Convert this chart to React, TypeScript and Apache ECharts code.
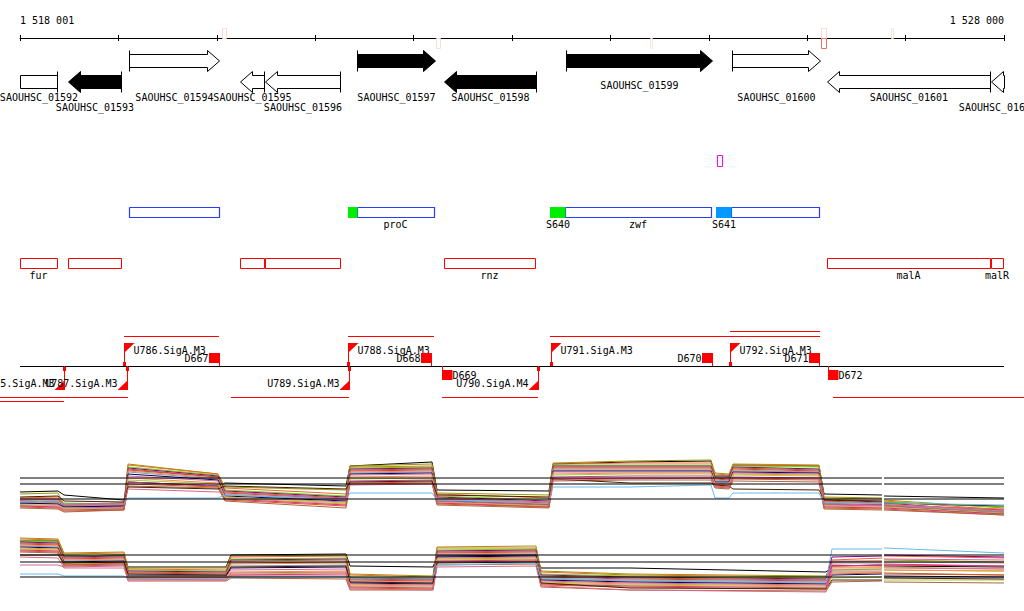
import React, { useEffect, useRef } from "react";
import * as echarts from "echarts";

// ---------------- view / ruler ----------------
const VIEW_START = 1518000;
const VIEW_END = 1528000;
const TICK_STEP = 1000;
const RULER_LABELS = ["1 518 001", "1 528 000"];

// ---------------- signal peaks on the ruler ----------------
const peakStarts = [1520053, 1522228, 1524403, 1526141, 1526141, 1526852];
const peakEnds = [1520094, 1522268, 1524423, 1526191, 1526191, 1526872];
const peakStrands = [1, -1, -1, 1, -1, 1];
const peakLevels = [0.2, 0.18, 0.14, 0.2, 0.75, 0.16];

// ---------------- genes ----------------
const geneNames = [
  "SAOUHSC_01592", "SAOUHSC_01593", "SAOUHSC_01594", "SAOUHSC_01595",
  "SAOUHSC_01596", "SAOUHSC_01597", "SAOUHSC_01598", "SAOUHSC_01599",
  "SAOUHSC_01600", "SAOUHSC_01601", "SAOUHSC_01602",
];
const geneStarts = [1517500, 1518488, 1519108, 1520236, 1520485, 1521425, 1522309, 1523549, 1525236, 1526201, 1527868];
const geneEnds = [1518376, 1519026, 1520022, 1520480, 1521252, 1522218, 1523244, 1525033, 1526130, 1527858, 1528600];
const geneStrands = [-1, -1, 1, -1, -1, 1, -1, 1, 1, -1, -1];
const geneHighlighted = [false, true, false, false, false, true, true, true, false, false, false];

// ---------------- small signal box ----------------
const sigStarts = [1525084];
const sigEnds = [1525134];

// ---------------- CDS boxes with start sites ----------------
const cdsStarts = [1519108, 1521425, 1523539, 1525226];
const cdsEnds = [1520022, 1522207, 1525023, 1526120];
const cdsNames = ["", "proC", "zwf", ""];
const siteStarts = [1521333, 1523386, 1525073];
const siteEnds = [1521425, 1523539, 1525226];
const siteNames = ["", "S640", "S641"];
const siteClass = ["major", "major", "minor"];

// ---------------- regulon boxes ----------------
const regStarts = [1517800, 1518488, 1520236, 1520490, 1522309, 1526201, 1527868];
const regEnds = [1518376, 1519026, 1520480, 1521252, 1523234, 1527858, 1527990];
const regNames = ["fur", "", "", "", "rnz", "malA", "malR"];

// ---------------- promoters / terminators / units ----------------
const promoterNames = ["U785.SigA.M3", "U786.SigA.M3", "U787.SigA.M3", "U788.SigA.M3", "U789.SigA.M3", "U790.SigA.M4", "U791.SigA.M3", "U792.SigA.M3"];
const promoterPos = [1518447, 1519057, 1519088, 1521333, 1521343, 1523264, 1523396, 1525216];
const promoterStrands = [-1, 1, -1, 1, -1, -1, 1, 1];
const termNames = ["D667", "D668", "D669", "D670", "D671", "D672"];
const termPos = [1520022, 1522177, 1522289, 1525033, 1526120, 1526212];
const termStrands = [1, 1, -1, 1, 1, -1];
const unitStarts = [1519057, 1521333, 1523386, 1525216, 1517700, 1517700, 1520144, 1522289, 1526262];
const unitEnds = [1520022, 1522207, 1526130, 1526130, 1519098, 1518447, 1521343, 1523264, 1528400];
const unitStrands = [1, 1, 1, 1, -1, -1, -1, -1, -1];
const unitTier = [0, 0, 0, 1, 0, 1, 0, 0, 0];

// ---------------- expression profiles ----------------
const exprGap = [1526760, 1526781];
const exprTopXs = [1518000, 1518386, 1518447, 1519057, 1519098, 1520012, 1520083, 1521313, 1521354, 1522187, 1522238, 1523376, 1523417, 1524199, 1525022, 1525063, 1525205, 1525246, 1526120, 1526171, 1526760, 1526781, 1528000];
const exprTopThresholds = [42, 36, 21];
const exprTop = [
  [28, 29, 25, 20, 38, 34, 37, 34, 54, 58, 30, 29, 56, 58, 59, 44, 44, 55, 54, 26, 25, 24, 22],
  [26, 27, 15, 17, 56, 46, 33, 30, 54, 56, 27, 25, 57, 59, 60, 47, 46, 56, 55, 23, 22, 20, 12],
  [22, 23, 14, 15, 55, 46, 32, 26, 53, 54, 26, 22, 56, 57, 57, 46, 45, 55, 54, 22, 21, 19, 10],
  [20, 20, 17, 16, 53, 45, 30, 24, 52, 53, 24, 20, 55, 55, 55, 44, 43, 54, 53, 21, 19, 18, 13],
  [19, 18, 14, 14, 52, 44, 29, 23, 51, 52, 23, 19, 54, 54, 54, 43, 43, 53, 51, 20, 18, 17, 8],
  [17, 18, 12, 13, 51, 43, 28, 22, 50, 51, 22, 18, 53, 53, 53, 42, 41, 52, 50, 19, 17, 16, 9],
  [21, 21, 16, 17, 50, 43, 27, 21, 49, 50, 21, 17, 52, 52, 52, 41, 40, 51, 49, 18, 17, 15, 10],
  [18, 17, 13, 12, 49, 42, 26, 20, 48, 49, 21, 16, 51, 51, 51, 40, 39, 50, 48, 18, 16, 16, 8],
  [16, 17, 14, 15, 48, 41, 25, 20, 47, 48, 20, 16, 50, 50, 50, 39, 39, 49, 48, 17, 15, 15, 9],
  [17, 16, 13, 14, 46, 40, 24, 19, 46, 47, 19, 15, 49, 49, 49, 38, 38, 48, 47, 16, 15, 14, 7],
  [15, 15, 12, 13, 44, 39, 23, 18, 45, 46, 19, 15, 48, 48, 48, 37, 36, 47, 46, 15, 14, 14, 8],
  [14, 14, 11, 12, 42, 37, 22, 16, 43, 44, 18, 14, 46, 47, 47, 36, 35, 46, 45, 14, 13, 13, 6],
  [15, 13, 12, 11, 40, 36, 23, 17, 41, 42, 17, 14, 45, 46, 46, 35, 34, 45, 44, 14, 12, 13, 7],
  [14, 13, 10, 11, 38, 34, 21, 15, 39, 40, 17, 13, 43, 44, 44, 34, 33, 43, 42, 13, 12, 12, 6],
  [13, 12, 9, 10, 36, 33, 20, 14, 37, 38, 16, 13, 41, 42, 42, 33, 32, 41, 40, 12, 11, 11, 5],
  [12, 11, 8, 10, 34, 32, 19, 12, 36, 37, 15, 12, 39, 40, 40, 32, 31, 39, 38, 11, 10, 10, 5],
  [23, 24, 19, 18, 33, 31, 34, 31, 38, 39, 25, 23, 41, 37, 37, 35, 34, 31, 30, 20, 19, 17, 14],
  [18, 19, 16, 16, 22, 22, 25, 21, 27, 27, 20, 18, 33, 33, 35, 22, 22, 27, 27, 17, 17, 17, 15],
  [20, 20, 15, 16, 31, 28, 28, 21, 35, 36, 22, 18, 40, 41, 42, 34, 33, 42, 41, 16, 15, 15, 11],
];
const exprBottomXs = [1518000, 1518386, 1518447, 1519057, 1519098, 1520094, 1520144, 1521313, 1521354, 1522197, 1522238, 1523244, 1523295, 1524199, 1526191, 1526252, 1526760, 1526781, 1528000];
const exprBottomThresholds = [45, 38, 23];
const exprBottom = [
  [59, 59, 44, 45, 33, 33, 45, 46, 34, 33, 43, 44, 32, 32, 28, 34, 35, 34, 33],
  [62, 61, 47, 48, 32, 32, 44, 45, 26, 24, 53, 54, 29, 26, 24, 38, 39, 40, 38],
  [61, 60, 46, 47, 31, 30, 43, 44, 25, 23, 52, 52, 28, 25, 23, 40, 42, 44, 42],
  [59, 58, 44, 45, 30, 29, 41, 42, 23, 22, 50, 51, 26, 24, 22, 30, 31, 30, 29],
  [58, 57, 43, 44, 29, 28, 40, 41, 22, 21, 49, 50, 25, 23, 21, 43, 44, 45, 43],
  [57, 56, 42, 43, 28, 27, 39, 40, 21, 20, 48, 49, 24, 22, 20, 28, 28, 27, 25],
  [56, 55, 41, 42, 27, 26, 37, 38, 20, 19, 47, 48, 23, 21, 19, 35, 34, 35, 34],
  [55, 54, 40, 41, 26, 25, 36, 37, 19, 18, 46, 47, 22, 20, 18, 32, 32, 33, 31],
  [54, 53, 39, 40, 25, 24, 34, 35, 18, 17, 45, 46, 21, 19, 17, 37, 37, 38, 37],
  [53, 52, 38, 39, 24, 24, 32, 33, 17, 16, 44, 45, 20, 18, 16, 25, 26, 24, 23],
  [35, 35, 33, 34, 23, 23, 30, 31, 16, 15, 42, 43, 19, 17, 15, 39, 39, 41, 40],
  [52, 51, 37, 38, 22, 22, 28, 29, 15, 14, 41, 42, 18, 16, 14, 33, 33, 30, 29],
  [51, 50, 36, 37, 23, 23, 26, 27, 14, 13, 40, 41, 17, 15, 13, 22, 23, 20, 20],
  [50, 49, 35, 36, 22, 22, 25, 26, 13, 12, 39, 40, 16, 14, 12, 34, 35, 36, 34],
  [49, 48, 35, 37, 21, 20, 24, 24, 12, 11, 38, 39, 15, 13, 11, 26, 27, 26, 25],
  [48, 47, 34, 35, 19, 19, 22, 21, 10, 10, 35, 36, 13, 10, 9, 18, 19, 18, 17],
  [45, 45, 37, 38, 26, 25, 33, 34, 18, 17, 37, 38, 17, 12, 11, 20, 20, 22, 21],
  [26, 26, 24, 24, 21, 21, 23, 23, 22, 22, 35, 37, 22, 20, 18, 51, 51, 52, 47],
  [43, 42, 32, 32, 20, 20, 27, 28, 11, 10, 33, 34, 14, 10, 8, 30, 30, 32, 31],
];

// ---------------- styles / layout ----------------
const LINE_COLORS = [
  "#000000", "#999900", "#ee6633", "#66dd00", "#880088", "#996633", "#ee3333",
  "#cc9966", "#999999", "#000066", "#cc6699", "#ff8844", "#aacc33", "#cc3399",
  "#dd5522", "#aa6644", "#442200", "#66bbee", "#dd6688",
];
const FONT_FAMILY = "DejaVu Sans Mono";
const RED = "#ff0000";
const BLUE = "#2a3cff";
const ROW = {
  peakTop: 28, rulerY: 38, peakBottom: 48,
  geneFwd: 61, geneRev: 82, geneHead: 10.5, geneShaft: 6.5, headLen: 12,
  geneLabelY: [85, 97, 107],
  sigTop: 155, sigBottom: 166,
  cdsTop: 207, cdsBottom: 217, cdsLabel: 224,
  regTop: 258, regBottom: 268, regLabel: 275,
  line: 366, upper: [336, 331], lower: [397, 401],
};
const GENE_LABEL_TIER = [1, 2, 1, 1, 2, 1, 1, 0, 1, 1, 2];
const SITE_COLORS: any = { major: "#00ee00", minor: "#0099ff" };

const cr = (v: number) => Math.round(v) + 0.5;

function label(text: string, x: number, y: number, align: string) {
  return {
    type: "text",
    silent: true,
    style: {
      text, x, y, fill: "#000", fontSize: 10, fontFamily: FONT_FAMILY,
      align, verticalAlign: "middle", textAlign: align, textVerticalAlign: "middle",
    },
  };
}

function peakColor(l: number) {
  const t = [232, 70, 40];
  return "rgb(" + t.map((c) => Math.round(255 + (c - 255) * l)).join(",") + ")";
}

function clampX(v: number) {
  return Math.min(VIEW_END, Math.max(VIEW_START, v));
}

function withGap(xs: number[], vals: number[]) {
  const out: any[] = [];
  for (let i = 0; i < xs.length; i++) {
    if (i > 0 && xs[i - 1] <= exprGap[0] && xs[i] >= exprGap[1]) {
      out.push([(exprGap[0] + exprGap[1]) / 2, null]);
    }
    out.push([xs[i], vals[i]]);
  }
  return out;
}

// outlined box drawn as a closed polyline
function boxItem(api: any, s: number, e: number, top: number, bottom: number, stroke: string, width = 1) {
  const x1 = cr(api.coord([clampX(s), top])[0]);
  const x2 = Math.max(x1 + 1, cr(api.coord([clampX(e), top])[0]));
  const y1 = top + 0.5;
  const y2 = bottom + 0.5;
  return {
    type: "polyline",
    shape: { points: [[x1, y1], [x2, y1], [x2, y2], [x1, y2], [x1, y1]] },
    style: { fill: null, stroke, lineWidth: width },
  };
}

function buildOption() {
  const trackSeries = (name: string, n: number, renderItem: any) => ({
    type: "custom",
    name,
    xAxisIndex: 0,
    yAxisIndex: 0,
    clip: false,
    silent: true,
    data: Array.from({ length: n }, (_, i) => [i, i]),
    encode: { x: [], y: [] },
    renderItem,
  });

  const series: any[] = [];

  // signal peaks on ruler
  series.push(trackSeries("peaks", peakStarts.length, (p: any, api: any) => {
    const i = p.dataIndex;
    const x1 = cr(api.coord([peakStarts[i], 0])[0]);
    const x2 = cr(api.coord([peakEnds[i], 0])[0]);
    const up = peakStrands[i] > 0;
    const y1 = up ? ROW.peakTop : ROW.rulerY;
    const y2 = up ? ROW.rulerY : ROW.peakBottom;
    return {
      type: "rect",
      shape: { x: x1, y: y1 + 0.5, width: Math.max(2, x2 - x1), height: y2 - y1 },
      style: { fill: "none", stroke: peakColor(peakLevels[i]), lineWidth: 1 },
    };
  }));

  // genes
  series.push(trackSeries("genes", geneNames.length, (p: any, api: any) => {
    const i = p.dataIndex;
    const fwd = geneStrands[i] > 0;
    const yc = fwd ? ROW.geneFwd : ROW.geneRev;
    const x1 = cr(api.coord([clampX(geneStarts[i]), yc])[0]);
    const x2 = cr(api.coord([clampX(geneEnds[i]), yc])[0]);
    const H = ROW.geneHead, h = ROW.geneShaft, L = ROW.headLen;
    const headIn = fwd ? geneEnds[i] <= VIEW_END : geneStarts[i] >= VIEW_START;
    const tailIn = fwd ? geneStarts[i] >= VIEW_START : geneEnds[i] <= VIEW_END;
    let pts: number[][];
    if (headIn && fwd) {
      const hb = Math.max(x1, x2 - L);
      pts = [[x1, yc - h], [hb, yc - h], [hb, yc - H], [x2, yc], [hb, yc + H], [hb, yc + h], [x1, yc + h]];
    } else if (headIn) {
      const hb = Math.min(x2, x1 + L);
      pts = [[x2, yc - h], [hb, yc - h], [hb, yc - H], [x1, yc], [hb, yc + H], [hb, yc + h], [x2, yc + h]];
    } else {
      pts = [[x1, yc - h], [x2, yc - h], [x2, yc + h], [x1, yc + h]];
    }
    const children: any[] = [
      { type: "polygon", shape: { points: pts }, style: { fill: geneHighlighted[i] ? "#000" : "#fff", stroke: "#000", lineWidth: 1 } },
    ];
    if (tailIn) {
      const xb = fwd ? x1 : x2;
      children.push({ type: "line", shape: { x1: xb, y1: yc - H, x2: xb, y2: yc + H }, style: { stroke: "#000", lineWidth: 1 } });
    }
    children.push(label(geneNames[i], (x1 + x2) / 2, ROW.geneLabelY[GENE_LABEL_TIER[i]], "center"));
    return { type: "group", children };
  }));

  // small signal box
  series.push(trackSeries("signal", sigStarts.length, (p: any, api: any) => {
    const i = p.dataIndex;
    return boxItem(api, sigStarts[i], sigEnds[i], ROW.sigTop, ROW.sigBottom, "#ff00ff");
  }));

  // CDS boxes
  series.push(trackSeries("cds", cdsStarts.length, (p: any, api: any) => {
    const i = p.dataIndex;
    const box = boxItem(api, cdsStarts[i], cdsEnds[i], ROW.cdsTop, ROW.cdsBottom, BLUE, 1.2);
    const cx = (api.coord([cdsStarts[i], 0])[0] + api.coord([cdsEnds[i], 0])[0]) / 2;
    const children: any[] = [box];
    if (cdsNames[i]) children.push(label(cdsNames[i], cx, ROW.cdsLabel, "center"));
    return { type: "group", children };
  }));

  // start sites
  series.push(trackSeries("sites", siteStarts.length, (p: any, api: any) => {
    const i = p.dataIndex;
    const x1 = cr(api.coord([siteStarts[i], 0])[0]);
    const x2 = cr(api.coord([siteEnds[i], 0])[0]);
    const children: any[] = [
      { type: "rect", shape: { x: x1 - 0.5, y: ROW.cdsTop, width: x2 - x1 + 0.5, height: ROW.cdsBottom - ROW.cdsTop + 1 }, style: { fill: SITE_COLORS[siteClass[i]] } },
    ];
    if (siteNames[i]) children.push(label(siteNames[i], (x1 + x2) / 2, ROW.cdsLabel, "center"));
    return { type: "group", children };
  }));

  // regulon boxes
  series.push(trackSeries("regulons", regStarts.length, (p: any, api: any) => {
    const i = p.dataIndex;
    const box = boxItem(api, regStarts[i], regEnds[i], ROW.regTop, ROW.regBottom, RED);
    const cx = (api.coord([clampX(regStarts[i]), 0])[0] + api.coord([clampX(regEnds[i]), 0])[0]) / 2;
    const children: any[] = [box];
    if (regNames[i]) children.push(label(regNames[i], cx, ROW.regLabel, "center"));
    return { type: "group", children };
  }));

  // baseline + transcription units
  series.push(trackSeries("baseline", 1, (p: any, api: any) => {
    const x1 = api.coord([VIEW_START, ROW.line])[0];
    const x2 = api.coord([VIEW_END, ROW.line])[0];
    return { type: "line", shape: { x1, y1: ROW.line + 0.5, x2, y2: ROW.line + 0.5 }, style: { stroke: "#000", lineWidth: 1 } };
  }));
  series.push(trackSeries("units", unitStarts.length, (p: any, api: any) => {
    const i = p.dataIndex;
    const y = (unitStrands[i] > 0 ? ROW.upper : ROW.lower)[unitTier[i]] + 0.5;
    const x1 = api.coord([unitStarts[i], y])[0];
    const x2 = api.coord([unitEnds[i], y])[0];
    return { type: "line", shape: { x1, y1: y, x2, y2: y }, style: { stroke: RED, lineWidth: 1 } };
  }));

  // promoters
  series.push(trackSeries("promoters", promoterNames.length, (p: any, api: any) => {
    const i = p.dataIndex;
    const X = cr(api.coord([promoterPos[i], ROW.line])[0]);
    const L = ROW.line;
    if (promoterStrands[i] > 0) {
      const top = L - 23;
      return {
        type: "group",
        children: [
          { type: "rect", shape: { x: X - 1.5, y: L - 4, width: 3, height: 4 }, style: { fill: RED } },
          { type: "line", shape: { x1: X, y1: top, x2: X, y2: L }, style: { stroke: RED, lineWidth: 1 } },
          { type: "polygon", shape: { points: [[X - 0.5, top], [X + 10, top], [X - 0.5, top + 10]] }, style: { fill: RED } },
          label(promoterNames[i], X + 9, top + 7, "left"),
        ],
      };
    }
    const bot = L + 24;
    return {
      type: "group",
      children: [
        { type: "rect", shape: { x: X - 1.5, y: L + 1, width: 3, height: 4 }, style: { fill: RED } },
        { type: "line", shape: { x1: X, y1: L, x2: X, y2: bot }, style: { stroke: RED, lineWidth: 1 } },
        { type: "polygon", shape: { points: [[X + 0.5, bot], [X - 10, bot], [X + 0.5, bot - 10]] }, style: { fill: RED } },
        label(promoterNames[i], X - 10, bot - 7, "right"),
      ],
    };
  }));

  // terminators
  series.push(trackSeries("terminators", termNames.length, (p: any, api: any) => {
    const i = p.dataIndex;
    const X = cr(api.coord([termPos[i], ROW.line])[0]);
    const L = ROW.line;
    if (termStrands[i] > 0) {
      return {
        type: "group",
        children: [
          { type: "rect", shape: { x: X - 10.5, y: L - 13, width: 10.5, height: 10 }, style: { fill: RED } },
          { type: "line", shape: { x1: X, y1: L - 13, x2: X, y2: L }, style: { stroke: RED, lineWidth: 1 } },
          label(termNames[i], X - 11, L - 8, "right"),
        ],
      };
    }
    return {
      type: "group",
      children: [
        { type: "line", shape: { x1: X, y1: L, x2: X, y2: L + 5 }, style: { stroke: RED, lineWidth: 1 } },
        { type: "rect", shape: { x: X - 0.5, y: L + 4, width: 10.5, height: 10 }, style: { fill: RED } },
        label(termNames[i], X + 10, L + 9, "left"),
      ],
    };
  }));

  // expression profiles
  const panels = [
    { xs: exprTopXs, lines: exprTop, thr: exprTopThresholds, xi: 3, yi: 2 },
    { xs: exprBottomXs, lines: exprBottom, thr: exprBottomThresholds, xi: 4, yi: 3 },
  ];
  panels.forEach((pn) => {
    pn.lines.forEach((vals, k) => {
      series.push({
        type: "line",
        xAxisIndex: pn.xi,
        yAxisIndex: pn.yi,
        data: withGap(pn.xs, vals),
        showSymbol: false,
        symbol: "none",
        connectNulls: false,
        silent: true,
        emphasis: { disabled: true },
        lineStyle: { color: LINE_COLORS[k % LINE_COLORS.length], width: 1 },
        z: 2,
      });
    });
    pn.thr.forEach((t) => {
      const xs = [VIEW_START, exprGap[0], exprGap[1], VIEW_END];
      series.push({
        type: "line",
        xAxisIndex: pn.xi,
        yAxisIndex: pn.yi,
        data: withGap(xs, xs.map(() => t)),
        showSymbol: false,
        symbol: "none",
        connectNulls: false,
        silent: true,
        emphasis: { disabled: true },
        lineStyle: { color: "#000", width: 1 },
        z: 3,
      });
    });
  });

  const hiddenX = (gridIndex: number) => ({ gridIndex, type: "value", min: VIEW_START, max: VIEW_END, show: false });

  return {
    animation: false,
    backgroundColor: "#ffffff",
    grid: [
      { left: 20, right: 20, top: 0, height: 611 },
      { left: 20, right: 20, top: ROW.rulerY, height: 10 },
      { left: 20, right: 20, top: 456, height: 64 },
      { left: 20, right: 20, top: 536, height: 64 },
    ],
    xAxis: [
      hiddenX(0),
      {
        gridIndex: 1, type: "value", min: VIEW_START, max: VIEW_END, interval: TICK_STEP, position: "top",
        axisLine: { show: true, onZero: false, lineStyle: { color: "#000", width: 1 } },
        axisTick: { show: true, length: 3, lineStyle: { color: "#000", width: 1 } },
        splitLine: { show: false },
        axisLabel: {
          show: true, margin: 13, color: "#000", fontSize: 10, fontFamily: FONT_FAMILY,
          showMinLabel: true, showMaxLabel: true, alignMinLabel: "left", alignMaxLabel: "right", hideOverlap: false,
          formatter: (v: number) => (v === VIEW_START ? RULER_LABELS[0] : v === VIEW_END ? RULER_LABELS[1] : ""),
        },
      },
      {
        gridIndex: 1, type: "value", min: VIEW_START, max: VIEW_END, interval: TICK_STEP, position: "top",
        axisLine: { show: false, onZero: false },
        axisTick: { show: true, inside: true, length: 3, lineStyle: { color: "#000", width: 1 } },
        axisLabel: { show: false },
        splitLine: { show: false },
      },
      hiddenX(2),
      hiddenX(3),
    ],
    yAxis: [
      { gridIndex: 0, type: "value", min: 0, max: 611, inverse: true, show: false },
      { gridIndex: 1, type: "value", min: 0, max: 1, show: false },
      { gridIndex: 2, type: "value", min: 0, max: 64, show: false },
      { gridIndex: 3, type: "value", min: 0, max: 64, show: false },
    ],
    series,
  };
}

export default function App() {
  const ref = useRef<HTMLDivElement>(null);
  useEffect(() => {
    if (!ref.current) return;
    const chart = echarts.init(ref.current, null, { renderer: "svg" });
    chart.setOption(buildOption() as any);
    return () => chart.dispose();
  }, []);
  return (
    <div
      ref={ref}
      style={{ position: "fixed", left: 0, top: 0, width: 1024, height: 611, background: "#fff" }}
    />
  );
}
